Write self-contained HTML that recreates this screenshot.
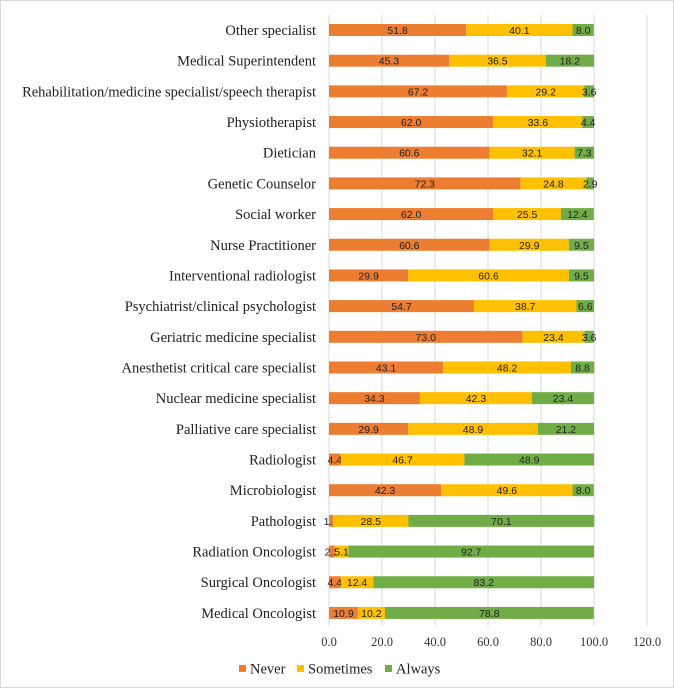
<!DOCTYPE html>
<html><head><meta charset="utf-8"><style>
html,body{margin:0;padding:0;background:#fff;}
svg{display:block;}
.l{font-family:"Liberation Serif",serif;font-size:14.5px;fill:#222;text-anchor:end;}
.d{font-family:"Liberation Sans",sans-serif;font-size:10.5px;fill:#222;text-anchor:middle;}
.t{font-family:"Liberation Serif",serif;font-size:12.5px;fill:#333;text-anchor:middle;}
</style></head><body>
<svg id="s" width="674" height="689" xmlns="http://www.w3.org/2000/svg">
<rect x="0.5" y="0.5" width="673" height="687" fill="#fff" stroke="#d9d9d9"/>
<g id="g"></g>
</svg>
<script>
const data=[
["Other specialist",51.8,40.1,8.0],
["Medical Superintendent",45.3,36.5,18.2],
["Rehabilitation/medicine specialist/speech therapist",67.2,29.2,3.6],
["Physiotherapist",62.0,33.6,4.4],
["Dietician",60.6,32.1,7.3],
["Genetic Counselor",72.3,24.8,2.9],
["Social worker",62.0,25.5,12.4],
["Nurse Practitioner",60.6,29.9,9.5],
["Interventional radiologist",29.9,60.6,9.5],
["Psychiatrist/clinical psychologist",54.7,38.7,6.6],
["Geriatric medicine specialist",73.0,23.4,3.6],
["Anesthetist critical care specialist",43.1,48.2,8.8],
["Nuclear medicine specialist",34.3,42.3,23.4],
["Palliative care specialist",29.9,48.9,21.2],
["Radiologist",4.4,46.7,48.9],
["Microbiologist",42.3,49.6,8.0],
["Pathologist",1.5,28.5,70.1],
["Radiation Oncologist",2.2,5.1,92.7],
["Surgical Oncologist",4.4,12.4,83.2],
["Medical Oncologist",10.9,10.2,78.8]];
const x0=329,sc=2.65,cols=["#ed7d31","#ffc000","#70ad47"];
let h="";
for(let i=0;i<=6;i++){const x=x0+i*20*sc;h+=`<line x1="${x}" y1="15" x2="${x}" y2="626" stroke="#d9d9d9"/>`;
h+=`<text class="t" x="${x}" y="646">${(i*20).toFixed(1)}</text>`;}
data.forEach((r,i)=>{const cy=30+i*30.68;let x=x0;
h+=`<text class="l" x="316" y="${cy+5}">${r[0]}</text>`;
for(let k=0;k<3;k++){const w=r[k+1]*sc;h+=`<rect x="${x}" y="${cy-6}" width="${w}" height="12" fill="${cols[k]}"/>`;
h+=`<text class="d" x="${x+w/2}" y="${cy+4}">${r[k+1].toFixed(1)}</text>`;x+=w;}
});
const lg=[["Never",239],["Sometimes",297],["Always",385]];
lg.forEach((l,k)=>{h+=`<rect x="${l[1]}" y="665" width="7" height="7" fill="${cols[k]}"/><text class="l" style="text-anchor:start;font-size:14.5px" x="${l[1]+11}" y="673.5">${l[0]}</text>`;});
document.getElementById("g").innerHTML=h;
</script>
</body></html>
